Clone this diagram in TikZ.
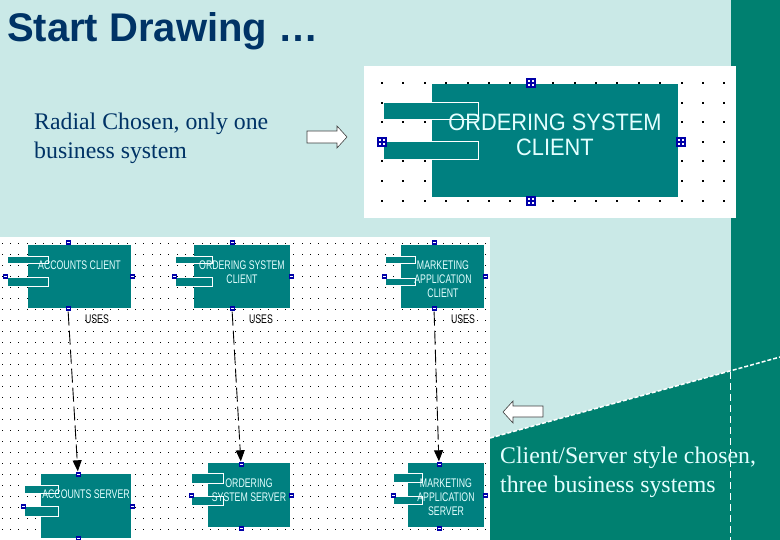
\documentclass[tikz,border=0pt]{standalone}
\usepackage{fontspec}
\setmainfont{Liberation Serif}
\newfontfamily\titlefont{Liberation Sans}
\newfontfamily\compfont[FakeStretch=0.7]{Liberation Sans}
\newfontfamily\bigcompfont[FakeStretch=0.92]{Liberation Sans}
\usetikzlibrary{arrows.meta}
\definecolor{bgcyan}{RGB}{202,233,231}
\definecolor{bandteal}{RGB}{0,128,112}
\definecolor{compteal}{RGB}{0,128,128}
\definecolor{navytxt}{RGB}{0,51,102}
\definecolor{handleblue}{RGB}{0,0,168}
\definecolor{paletext}{RGB}{228,255,255}
\begin{document}
\begin{tikzpicture}[x=1pt,y=-1pt,
  comp/.style={rectangle, fill=compteal, draw=none, inner sep=0, anchor=north west},
  tab/.style={fill=compteal, draw=white, line width=0.8pt},
  smalltxt/.style={font=\compfont\fontsize{12.5}{14}\selectfont, text=paletext, align=center, inner sep=0},
  bigtxt/.style={font=\bigcompfont\fontsize{23.7}{25}\selectfont, text=paletext, align=center, inner sep=0},
  usestxt/.style={font=\compfont\fontsize{12.5}{14}\selectfont, text=black, inner sep=0},
  hbig/.style={rectangle, fill=handleblue, minimum size=10pt, inner sep=0,
    path picture={\foreach \dx/\dy in {2pt/2pt,6pt/2pt,2pt/6pt,6pt/6pt}{\fill[white] ([xshift=\dx, yshift=-\dy]path picture bounding box.north west) rectangle ++(2pt,-2pt);}}},
  hsmall/.style={rectangle, fill=handleblue, minimum size=5pt, inner sep=0,
    path picture={\fill[white] ([xshift=1pt, yshift=-2pt]path picture bounding box.north west) rectangle ++(3pt,-1pt);}},
  uses/.style={draw=black, line width=0.9pt, dash pattern=on 14pt off 5pt, -{Triangle[length=11pt,width=9pt]}},
  blockarrow/.style={fill=white, draw=black!75, line width=0.6pt, line join=miter},
  bodytxt/.style={font=\fontsize{23.8}{29}\selectfont, anchor=base west, inner sep=0},
]
\useasboundingbox (0,0) rectangle (780,540);
% background
\fill[bgcyan] (0,0) rectangle (780,540);
\fill[bandteal] (731,0) rectangle (780,540);
\fill[bandteal] (490,438) -- (780,357) -- (780,540) -- (490,540) -- cycle;
\draw[white, line width=1.5pt, dash pattern=on 4pt off 2pt] (490,438) -- (780,357);
\draw[white, line width=0.8pt, dash pattern=on 7pt off 4pt] (730,372) -- (730,540);

% title
\node[font=\titlefont\bfseries\fontsize{40}{44}\selectfont, text=navytxt, anchor=base west, inner sep=0] (title) at (7,42) {Start Drawing …};

% top text and arrow
\node[bodytxt, text=navytxt] (r1) at (34,130) {Radial Chosen, only one};
\node[bodytxt, text=navytxt] (r2) at (34,159) {business system};
\draw[blockarrow] (307,131) -- (337,131) -- (337,126) -- (347,137) -- (337,148) -- (337,143) -- (307,143) -- cycle;

% top panel
\fill[white] (364,66) rectangle (736,218);
\foreach \i in {0,...,16}{\foreach \j in {0,...,6}{\fill (381+21.4*\i,82+19.6*\j) rectangle ++(2,2);}}
\node[comp, minimum width=246pt, minimum height=113pt] (tc) at (432,84) {};
\draw[tab] (383,102) rectangle (478,119);
\draw[tab] (383,141) rectangle (478,159);
\node[bigtxt] (tct) at (555,134.5) {ORDERING SYSTEM\\CLIENT};
\node[hbig] (tc-t) at (531,83) {};
\node[hbig] (tc-b) at (531,201) {};
\node[hbig] (tc-l) at (382,142) {};
\node[hbig] (tc-r) at (681,142) {};

% lower panel
\fill[white] (0,237) rectangle (490,540);
\foreach \i in {0,...,58}{\foreach \j in {0,...,26}{\fill (1.7+8.33*\i,243+11*\j) rectangle ++(1.1,1.1);}}

% clients
\node[comp, minimum width=103pt, minimum height=63pt] (ac) at (28,245) {};
\draw[tab] (7,256) rectangle (48,263);
\draw[tab] (7,277) rectangle (48,286);
\node[smalltxt] (act) at (79.5,265) {ACCOUNTS CLIENT};

\node[comp, minimum width=96pt, minimum height=63pt] (oc) at (194,245) {};
\draw[tab] (175,256) rectangle (212,263);
\draw[tab] (175,277) rectangle (212,286);
\node[smalltxt] (oct) at (242,272) {ORDERING SYSTEM\\CLIENT};

\node[comp, minimum width=83pt, minimum height=63pt] (mc) at (401,245) {};
\draw[tab] (385,256) rectangle (415,263);
\draw[tab] (385,278) rectangle (415,285);
\node[smalltxt] (mct) at (443,279) {MARKETING\\APPLICATION\\CLIENT};

% servers
\node[comp, minimum width=90pt, minimum height=64pt] (as) at (41,474) {};
\draw[tab] (24,485) rectangle (58,493);
\draw[tab] (24,506) rectangle (58,516);
\node[smalltxt] (ast) at (86,494) {ACCOUNTS SERVER};

\node[comp, minimum width=82pt, minimum height=64pt] (os) at (208,463) {};
\draw[tab] (191,473) rectangle (223,483);
\draw[tab] (191,496) rectangle (223,505);
\node[smalltxt] (ost) at (249,490) {ORDERING\\SYSTEM SERVER};

\node[comp, minimum width=76pt, minimum height=64pt] (ms) at (408,463) {};
\draw[tab] (393,473) rectangle (422,482);
\draw[tab] (393,496) rectangle (422,504);
\node[smalltxt] (mst) at (446,497) {MARKETING\\APPLICATION\\SERVER};

% handles
\node[hsmall] (ac-t) at (68,243) {};
\node[hsmall] (ac-l) at (5,277) {};
\node[hsmall] (ac-r) at (132,277) {};
\node[hsmall] (ac-b) at (68,309) {};
\node[hsmall] (oc-t) at (232,243) {};
\node[hsmall] (oc-l) at (174,277) {};
\node[hsmall] (oc-r) at (291,277) {};
\node[hsmall] (oc-b) at (232,309) {};
\node[hsmall] (mc-t) at (434,243) {};
\node[hsmall] (mc-l) at (384,277) {};
\node[hsmall] (mc-r) at (485,277) {};
\node[hsmall] (mc-b) at (434,309) {};
\node[hsmall] (as-t) at (78,474) {};
\node[hsmall] (as-l) at (23,506) {};
\node[hsmall] (as-r) at (132,506) {};
\node[hsmall] (as-b) at (78,538) {};
\node[hsmall] (os-t) at (241,464) {};
\node[hsmall] (os-l) at (191,495) {};
\node[hsmall] (os-r) at (291,495) {};
\node[hsmall] (os-b) at (241,528) {};
\node[hsmall] (ms-t) at (439,464) {};
\node[hsmall] (ms-l) at (393,495) {};
\node[hsmall] (ms-r) at (485,495) {};
\node[hsmall] (ms-b) at (439,528) {};

% connectors
\draw[uses] (ac-b) -- (as-t);
\draw[uses] (oc-b) -- (os-t);
\draw[uses] (mc-b) -- (ms-t);
\node[usestxt] (u1) at (97,319) {USES};
\node[usestxt] (u2) at (261,319) {USES};
\node[usestxt] (u3) at (463,319) {USES};

% lower right text and arrow
\draw[blockarrow] (543,406) -- (513,406) -- (513,401) -- (503,412) -- (513,423) -- (513,417) -- (543,417) -- cycle;
\node[bodytxt, text=paletext] (c1) at (500,463) {Client/Server style chosen,};
\node[bodytxt, text=paletext] (c2) at (500,492) {three business systems};
\end{tikzpicture}
\end{document}
